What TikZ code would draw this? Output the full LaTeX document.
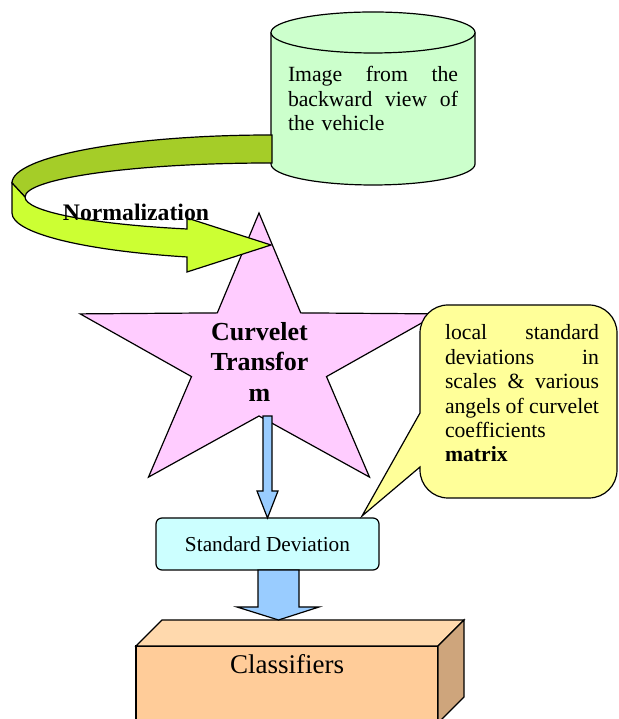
\documentclass[tikz,border=0pt]{standalone}
\usepackage{fontspec}
\setmainfont{Liberation Serif}
\usetikzlibrary{calc}

\definecolor{drumgreen}{RGB}{204,255,204}
\definecolor{ribbondark}{RGB}{165,205,40}
\definecolor{ribbonlight}{RGB}{204,255,51}
\definecolor{starpink}{RGB}{255,204,255}
\definecolor{arrowblue}{RGB}{153,204,255}
\definecolor{sdcyan}{RGB}{204,255,255}
\definecolor{noteyellow}{RGB}{255,255,153}
\definecolor{cubefront}{RGB}{255,204,153}
\definecolor{cubetop}{RGB}{255,217,173}
\definecolor{cubeside}{RGB}{206,165,124}

\begin{document}
\begin{tikzpicture}[x=1pt, y=1pt, line width=1.2pt,
  every node/.style={inner sep=0pt, outer sep=0pt},
  txt/.style={font=\fontsize{21.7}{24.4}\selectfont},
  blockarrow/.style={draw, fill=arrowblue},
  sdbox/.style={draw, fill=sdcyan, rounded corners=6pt, minimum width=223pt,
    minimum height=52pt, font=\fontsize{21.3}{25}\selectfont},
  face/.style={draw, fill=#1}]

\useasboundingbox (0,0) rectangle (618,719);

% drum
\draw[fill=drumgreen] (271,686.5) -- (271,555) arc[start angle=180, end angle=360, x radius=102, y radius=21] -- (475,686.5);
\draw[fill=drumgreen] (373,686.5) ellipse [x radius=102, y radius=20.5];
\node[txt, text width=170pt, align=left] (img) at (373,620.5)
  {Image\hfill from\hfill the\\backward\hfill view\hfill of\\the vehicle};

% star
\draw[fill=starpink] (259,506) -- (300.7,406.1) -- (437.8,405.1) -- (326.5,342.4) -- (369.5,241.9)
  -- (259,303) -- (148.5,241.9) -- (191.5,342.4) -- (80.2,405.1) -- (217.3,406.1) -- cycle;
\coordinate (sbot) at (259,303);
\node[font=\fontsize{26}{30.5}\selectfont\bfseries, align=center] (ct) at (259.5,357.5) {Curvelet\\Transfor\\m};

% ribbon
\draw[fill=ribbondark] (272,584) -- (271,584) arc[start angle=90, end angle=180, x radius=259, y radius=48]
  -- (25,522) arc[start angle=180, end angle=90, x radius=246, y radius=34] -- (272,556) -- cycle;
\draw[fill=ribbonlight] (25,522) -- (12,536) -- (12,506) arc[start angle=180, end angle=251.08, x radius=259, y radius=46.5]
  -- (187,447) -- (271,474) -- (187,501) -- (187,490) arc[start angle=250.03, end angle=180, x radius=246, y radius=34] -- cycle;
\node[font=\fontsize{23.7}{28}\selectfont\bfseries] (norm) at (136,507) {Normalization};

\node[sdbox] (sd) at (267.5,175) {Standard Deviation};
\draw[blockarrow] ($(sd.north |- sbot)+(-4.5,0)$) -- ++(0,-75) -- ++(-6,0) -- (sd.north) -- ++(10.5,27) -- ++(-6,0) -- ++(0,75) -- cycle;

% callout
\draw[fill=noteyellow] ([xshift=-17pt,yshift=2pt]sd.north east) -- (420,252) -- (420,249)
  arc[start angle=180, end angle=270, radius=28] -- (589,221)
  arc[start angle=270, end angle=360, radius=28] -- (617,386)
  arc[start angle=0, end angle=90, radius=28] -- (448,414)
  arc[start angle=90, end angle=180, radius=28] -- (420,306) -- cycle;
\node[txt, text width=154pt, align=left] (note) at (522,325.5)
  {local\hfill standard\\deviations\hfill in\\scales\hfill\&\hfill various\\angels\hfill of\hfill curvelet\\coefficients\\\textbf{matrix}};

% box
\node[face=cubefront, anchor=north west, minimum width=302pt, minimum height=77pt,
  label={[anchor=north, yshift=-8.6pt, font=\rmfamily\fontsize{27}{32}\selectfont]north:Classifiers}] (clbox) at (136,73) {};
\draw[face=cubetop] (clbox.north west) -- ++(26,26) -- ++(302,0) -- (clbox.north east) -- cycle;
\draw[face=cubeside] (clbox.north east) -- ++(26,26) -- ++(0,-77) -- (clbox.south east) -- cycle;
\coordinate (bigtip) at ($(clbox.north west)+(142.5,26)$);
\draw[blockarrow] ($(sd.south -| bigtip)+(-20.5,0)$) -- ++(0,-37) -- ++(-21,0) -- (bigtip) -- ++(40.5,13) -- ++(-20,0) -- ++(0,37) -- cycle;
\end{tikzpicture}
\end{document}
